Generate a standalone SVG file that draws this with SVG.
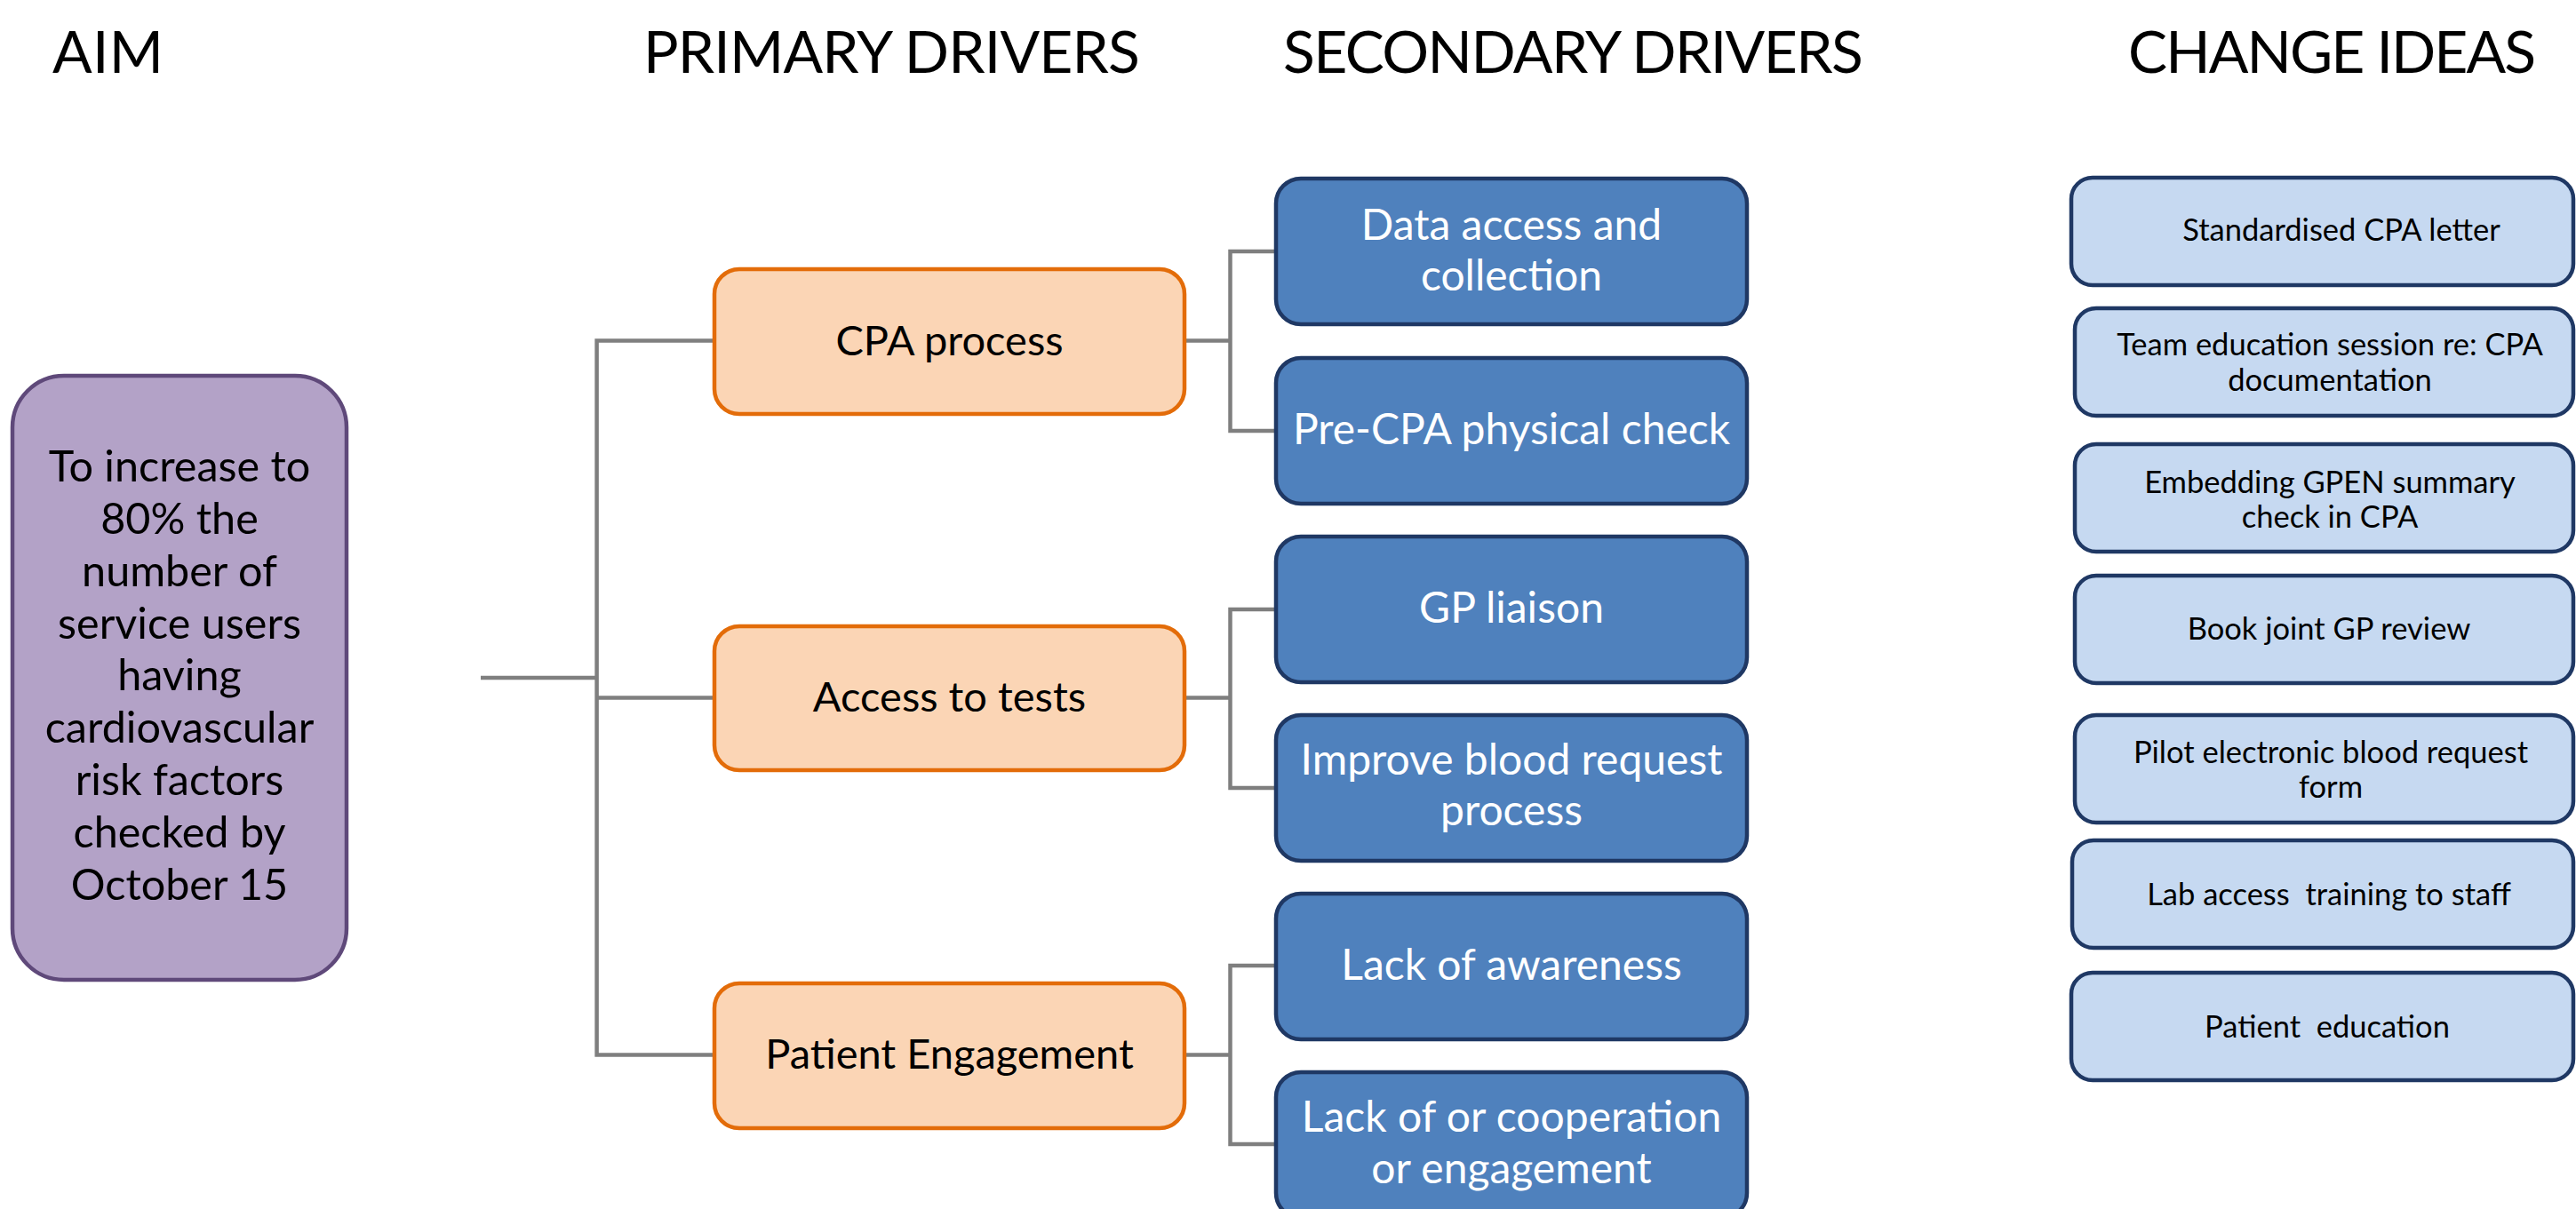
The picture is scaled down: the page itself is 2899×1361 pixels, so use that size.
<svg xmlns="http://www.w3.org/2000/svg" width="2899" height="1361" viewBox="0 0 2899 1361">
  <style>
    text { font-family: "Lato", "Liberation Sans", sans-serif; text-anchor: middle; }
    .hdr { font-size: 66px; font-weight: 400; fill: #000; }
    .aim { fill: #B3A2C7; stroke: #5F497A; stroke-width: 4.5; }
    .aim-t { font-size: 48.5px; fill: #000; }
    .pri { fill: #FBD5B5; stroke: #E36C09; stroke-width: 4.5; }
    .pri-t { font-size: 47px; fill: #000; }
    .sec { fill: #4F81BD; stroke: #1F3864; stroke-width: 4.5; }
    .sec-t { font-size: 48px; fill: #FFFFFF; }
    .chg { fill: #C6D9F1; stroke: #1F3864; stroke-width: 4.5; }
    .chg-t { font-size: 34.5px; fill: #000; white-space: pre; }
    .conn { fill: none; stroke: #7F7F7F; stroke-width: 4.5; stroke-linejoin: miter; }
  </style>

  <rect width="2899" height="1361" fill="#FFFFFF"/>

  <!-- column headings -->
  <g id="headings">
    <text class="hdr" x="121.6" y="82" textLength="125">AIM</text>
    <text class="hdr" x="1003.4" y="82" textLength="559">PRIMARY DRIVERS</text>
    <text class="hdr" x="1770.4" y="82" textLength="653">SECONDARY DRIVERS</text>
    <text class="hdr" x="2624.5" y="82" textLength="459">CHANGE IDEAS</text>
  </g>

  <!-- connectors -->
  <g id="connectors" class="conn">
    <path d="M541 763 H671.6"/>
    <path d="M804 383.5 H671.6 V1187.6 H804"/>
    <path d="M671.6 785.6 H804"/>
    <path d="M1333 383.5 H1384.5"/>
    <path d="M1436 283 H1384.5 V485 H1436"/>
    <path d="M1333 785.6 H1384.5"/>
    <path d="M1436 686 H1384.5 V887 H1436"/>
    <path d="M1333 1187.6 H1384.5"/>
    <path d="M1436 1087 H1384.5 V1288 H1436"/>
  </g>

  <!-- aim -->
  <g id="aim">
    <rect class="aim" x="14" y="423" width="376" height="680" rx="58" ry="58"/>
    <text class="aim-t" x="202" y="542">To increase to</text>
    <text class="aim-t" x="202" y="601">80% the</text>
    <text class="aim-t" x="202" y="660">number of</text>
    <text class="aim-t" x="202" y="719">service users</text>
    <text class="aim-t" x="202" y="777">having</text>
    <text class="aim-t" x="202" y="836">cardiovascular</text>
    <text class="aim-t" x="202" y="895">risk factors</text>
    <text class="aim-t" x="202" y="954">checked by</text>
    <text class="aim-t" x="202" y="1013">October 15</text>
  </g>

  <!-- primary drivers -->
  <g id="primary-cpa">
    <rect class="pri" x="804" y="303" width="529" height="163" rx="28" ry="28"/>
    <text class="pri-t" x="1068.5" y="400">CPA process</text>
  </g>
  <g id="primary-tests">
    <rect class="pri" x="804" y="705" width="529" height="162" rx="28" ry="28"/>
    <text class="pri-t" x="1068.5" y="801">Access to tests</text>
  </g>
  <g id="primary-engagement">
    <rect class="pri" x="804" y="1107" width="529" height="163" rx="28" ry="28"/>
    <text class="pri-t" x="1068.5" y="1203">Patient Engagement</text>
  </g>

  <!-- secondary drivers -->
  <g id="secondary-data">
    <rect class="sec" x="1436" y="201" width="530" height="164" rx="28" ry="28"/>
    <text class="sec-t" x="1701" y="270">Data access and</text>
    <text class="sec-t" x="1701" y="327">collection</text>
  </g>
  <g id="secondary-precpa">
    <rect class="sec" x="1436" y="403" width="530" height="164" rx="28" ry="28"/>
    <text class="sec-t" x="1701" y="500">Pre-CPA physical check</text>
  </g>
  <g id="secondary-gp">
    <rect class="sec" x="1436" y="604" width="530" height="164" rx="28" ry="28"/>
    <text class="sec-t" x="1701" y="701">GP liaison</text>
  </g>
  <g id="secondary-blood">
    <rect class="sec" x="1436" y="805" width="530" height="164" rx="28" ry="28"/>
    <text class="sec-t" x="1701" y="872">Improve blood request</text>
    <text class="sec-t" x="1701" y="929">process</text>
  </g>
  <g id="secondary-awareness">
    <rect class="sec" x="1436" y="1006" width="530" height="164" rx="28" ry="28"/>
    <text class="sec-t" x="1701" y="1103">Lack of awareness</text>
  </g>
  <g id="secondary-cooperation">
    <rect class="sec" x="1436" y="1207" width="530" height="164" rx="28" ry="28"/>
    <text class="sec-t" x="1701" y="1274">Lack of or cooperation</text>
    <text class="sec-t" x="1701" y="1332">or engagement</text>
  </g>

  <!-- change ideas -->
  <g id="change-letter">
    <rect class="chg" x="2331" y="200" width="565" height="121" rx="24" ry="24"/>
    <text class="chg-t" x="2635" y="270.5">Standardised CPA letter</text>
  </g>
  <g id="change-team">
    <rect class="chg" x="2335" y="347" width="561" height="121" rx="24" ry="24"/>
    <text class="chg-t" x="2622" y="400">Team education session re: CPA</text>
    <text class="chg-t" x="2622" y="440">documentation</text>
  </g>
  <g id="change-gpen">
    <rect class="chg" x="2335" y="500" width="561" height="121" rx="24" ry="24"/>
    <text class="chg-t" x="2622" y="555">Embedding GPEN summary</text>
    <text class="chg-t" x="2622" y="594">check in CPA</text>
  </g>
  <g id="change-review">
    <rect class="chg" x="2335" y="648" width="561" height="121" rx="24" ry="24"/>
    <text class="chg-t" x="2621" y="720">Book joint GP review</text>
  </g>
  <g id="change-form">
    <rect class="chg" x="2335" y="805" width="561" height="121" rx="24" ry="24"/>
    <text class="chg-t" x="2623" y="859">Pilot electronic blood request</text>
    <text class="chg-t" x="2623" y="898">form</text>
  </g>
  <g id="change-lab">
    <rect class="chg" x="2332" y="946" width="564" height="121" rx="24" ry="24"/>
    <text class="chg-t" x="2621" y="1019">Lab access  training to staff</text>
  </g>
  <g id="change-education">
    <rect class="chg" x="2331" y="1095" width="565" height="121" rx="24" ry="24"/>
    <text class="chg-t" x="2619" y="1168">Patient  education</text>
  </g>
</svg>
